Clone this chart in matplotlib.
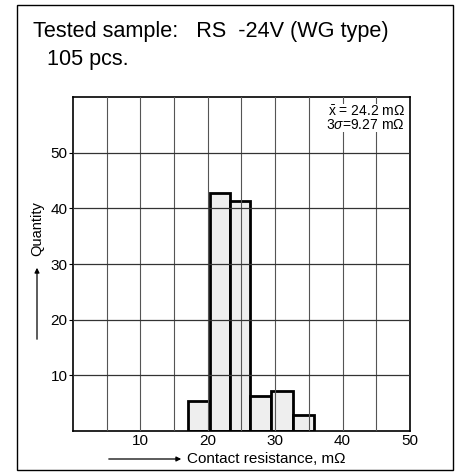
import matplotlib.pyplot as plt
import matplotlib.patches as mpatches
import numpy as np

plt.rcParams['font.family'] = ['Liberation Sans', 'DejaVu Sans']
plt.rcParams['mathtext.fontset'] = 'custom'
plt.rcParams['mathtext.rm'] = 'Liberation Sans'
plt.rcParams['mathtext.it'] = 'Liberation Sans:italic'

# histogram
bin_edges = [17.1, 20.3, 23.3, 26.3, 29.4, 32.6, 35.7]
counts = [5.3, 42.8, 41.4, 6.3, 7.1, 2.9]
x_ticks = [10, 20, 30, 40, 50]
y_ticks = [10, 20, 30, 40, 50]
mean_txt = r"$\bar{\mathrm{x}}$ = 24.2 m$\Omega$"
sigma_txt = r"3$\sigma$=9.27 m$\Omega$"

fig = plt.figure(figsize=(4.6, 4.73), dpi=100)
ax = fig.add_axes([73/460, 1-431/473, 337/460, 334/473])

left = np.array(bin_edges[:-1])
widths = np.diff(bin_edges)
ax.bar(left, counts, width=widths, align='edge', facecolor='#eeeeee',
       edgecolor='black', linewidth=2.0, zorder=1)

ax.set_xlim(0, 50)
ax.set_ylim(0, 60)
ax.set_xticks(x_ticks)
ax.set_yticks(y_ticks)
for v in np.arange(5, 50, 5):
    ax.axvline(v, color='#555555', lw=0.8, zorder=3)
for v in y_ticks:
    ax.axhline(v, color='#333333', lw=0.9, zorder=3)
ax.tick_params(axis='x', length=0, labelsize=11, pad=2)
ax.tick_params(axis='y', length=3, width=0.8, labelsize=11, pad=1)
for s in ax.spines.values():
    s.set_linewidth(1.2)

ax.text(0.985, 0.957, mean_txt, transform=ax.transAxes, ha='right', va='center',
        fontsize=10, zorder=5, bbox=dict(fc='white', ec='none', pad=0))
ax.text(0.985, 0.917, sigma_txt, transform=ax.transAxes, ha='right', va='center',
        fontsize=10, zorder=5, bbox=dict(fc='white', ec='none', pad=0))

# axis captions with arrows
fig.text(187/460, 1-459/473, "Contact resistance, m\u03a9", ha='left', va='center', fontsize=11)
fig.add_artist(mpatches.FancyArrowPatch((106/460, 1-459/473), (184/460, 1-459/473),
               transform=fig.transFigure, arrowstyle='-|>', mutation_scale=7, lw=0.9, color='black'))
fig.text(37/460, 1-229/473, "Quantity", rotation=90, ha='center', va='center', fontsize=10.5)
fig.add_artist(mpatches.FancyArrowPatch((37/460, 1-342/473), (37/460, 1-265/473),
               transform=fig.transFigure, arrowstyle='-|>', mutation_scale=7, lw=0.9, color='black'))

# heading
fig.text(33/460, 1-31/473, "Tested sample:   RS  -24V (WG type)", ha='left', va='center', fontsize=15.6)
fig.text(47/460, 1-60/473, "105 pcs.", ha='left', va='center', fontsize=15.6)

# outer frame
fig.add_artist(mpatches.Rectangle((17/460, 1-470/473), 436/460, 465/473,
               transform=fig.transFigure, fill=False, lw=1.0, ec='black'))

fig.savefig('out.png', dpi=100)
